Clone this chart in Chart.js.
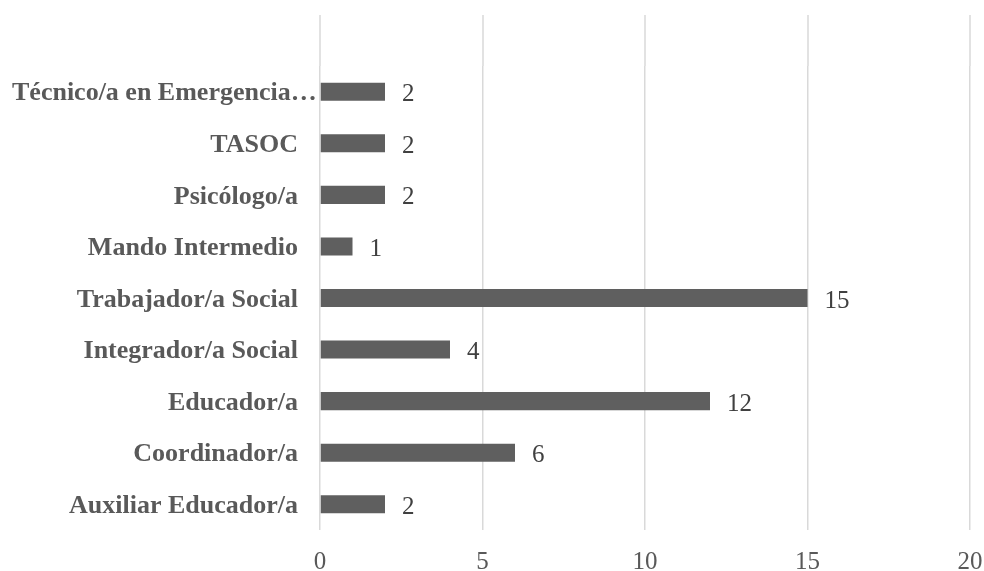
<!DOCTYPE html>
<html>
<head>
<meta charset="utf-8">
<script src="https://cdn.jsdelivr.net/npm/chart.js@4.4.1/dist/chart.umd.min.js"></script>
<style>
  html, body { margin: 0; padding: 0; background: #ffffff; }
  #c { display: block; }
</style>
</head>
<body>
<canvas id="c" width="984" height="571"></canvas>
<script>
const categories = [
  'Técnico/a en Emergencia…',
  'TASOC',
  'Psicólogo/a',
  'Mando Intermedio',
  'Trabajador/a Social',
  'Integrador/a Social',
  'Educador/a',
  'Coordinador/a',
  'Auxiliar Educador/a'
];
const values = [2, 2, 2, 1, 15, 4, 12, 6, 2];
const xTicks = [0, 5, 10, 15, 20];

const SERIF = '"Liberation Serif", "Times New Roman", serif';

const gridExtend = {
  id: 'gridExtend',
  beforeDatasetsDraw(chart) {
    const ctx = chart.ctx;
    const xs = chart.scales.x;
    ctx.save();
    ctx.strokeStyle = '#d9d9d9';
    ctx.lineWidth = 1.5;
    xTicks.forEach(v => {
      const x = Math.round(xs.getPixelForValue(v));
      ctx.beginPath();
      ctx.moveTo(x, 15);
      ctx.lineTo(x, chart.chartArea.top);
      ctx.stroke();
    });
    ctx.restore();
  }
};

const catLabels = {
  id: 'catLabels',
  afterDraw(chart) {
    const ctx = chart.ctx;
    const ys = chart.scales.y;
    ctx.save();
    ctx.font = 'bold 26px ' + SERIF;
    ctx.fillStyle = '#595959';
    ctx.textBaseline = 'middle';
    const right = chart.chartArea.left - 22;
    categories.forEach((label, i) => {
      const y = ys.getPixelForValue(i) + 2;
      const w = ctx.measureText(label).width;
      if (right - w < 12) {
        ctx.textAlign = 'left';
        ctx.fillText(label, 12, y);
      } else {
        ctx.textAlign = 'right';
        ctx.fillText(label, right, y);
      }
    });
    ctx.restore();
  }
};

const valueLabels = {
  id: 'valueLabels',
  afterDatasetsDraw(chart) {
    const ctx = chart.ctx;
    const meta = chart.getDatasetMeta(0);
    ctx.save();
    ctx.font = '25px ' + SERIF;
    ctx.fillStyle = '#404040';
    ctx.textAlign = 'left';
    ctx.textBaseline = 'middle';
    meta.data.forEach((el, i) => {
      ctx.fillText(String(values[i]), el.x + 17, el.y + 3);
    });
    ctx.restore();
  }
};

new Chart(document.getElementById('c'), {
  type: 'bar',
  data: {
    labels: categories,
    datasets: [{
      data: values,
      backgroundColor: '#5f5f5f',
      borderWidth: 0,
      categoryPercentage: 1.0,
      barPercentage: 0.35
    }]
  },
  options: {
    indexAxis: 'y',
    responsive: false,
    animation: false,
    layout: { padding: { top: 66, right: 14, left: 0, bottom: 0 } },
    plugins: {
      legend: { display: false },
      tooltip: { enabled: false }
    },
    scales: {
      x: {
        min: 0,
        max: 20,
        afterBuildTicks(scale) {
          scale.ticks = xTicks.map(v => ({ value: v }));
        },
        ticks: {
          font: { family: SERIF, size: 25 },
          color: '#595959',
          padding: 17
        },
        grid: {
          color: '#d9d9d9',
          lineWidth: 1.5,
          drawTicks: false
        },
        border: { display: false },
        afterFit(scale) {
          scale.height = 41;
          scale.paddingLeft = 0;
          scale.paddingRight = 0;
        }
      },
      y: {
        ticks: { display: false },
        grid: { display: false, drawTicks: false },
        border: { display: false },
        afterFit(scale) {
          scale.width = 320;
          scale.paddingTop = 0;
          scale.paddingBottom = 0;
        }
      }
    }
  },
  plugins: [gridExtend, catLabels, valueLabels]
});
</script>
</body>
</html>
